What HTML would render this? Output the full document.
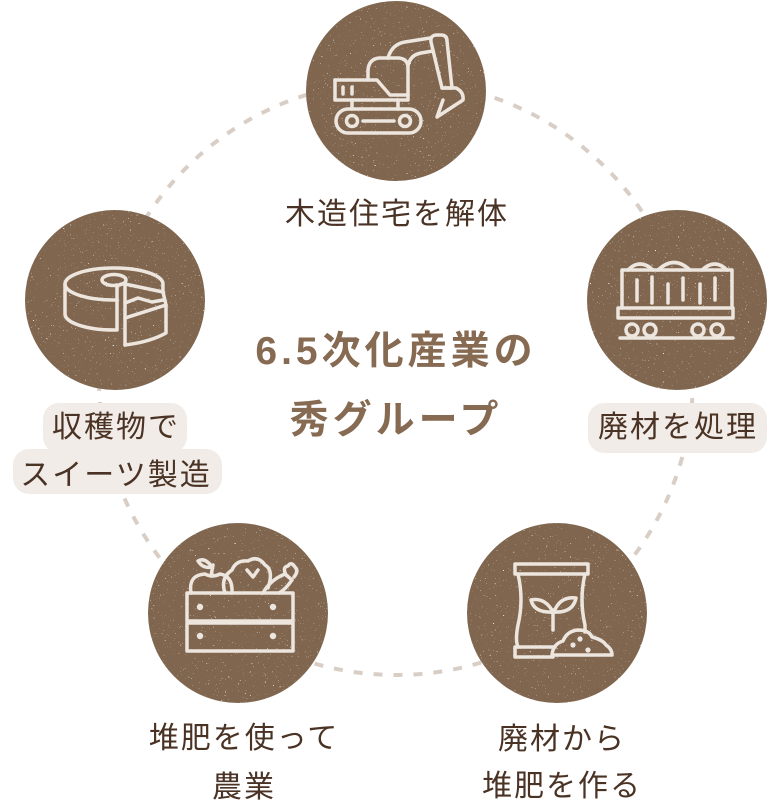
<!DOCTYPE html>
<html><head><meta charset="utf-8">
<style>
html,body{margin:0;padding:0;background:#fff;}
body{width:776px;height:809px;position:relative;overflow:hidden;font-family:"Liberation Sans","Noto Sans CJK JP",sans-serif;}
svg.bg{position:absolute;left:0;top:0;}
.lbl{position:absolute;text-align:center;color:#4a3324;font-size:30px;line-height:48px;letter-spacing:2px;white-space:nowrap;}
.title{position:absolute;text-align:center;color:#866a51;font-size:39px;font-weight:700;line-height:69px;letter-spacing:4px;white-space:nowrap;}
</style></head><body>
<svg class="bg" width="776" height="809" viewBox="0 0 776 809" xmlns="http://www.w3.org/2000/svg">
<defs>
<filter id="grunge" x="-5%" y="-5%" width="110%" height="110%">
<feTurbulence type="fractalNoise" baseFrequency="0.6" numOctaves="2" seed="7" result="noise"/>
<feColorMatrix in="noise" type="matrix" values="0 0 0 0 0.94  0 0 0 0 0.91  0 0 0 0 0.88  -12 0 0 0 3.1" result="spk"/>
<feComposite in="spk" in2="SourceGraphic" operator="in" result="spk2"/>
<feMerge><feMergeNode in="SourceGraphic"/><feMergeNode in="spk2"/></feMerge>
</filter>
</defs>
<!-- dashed ring -->
<circle cx="396" cy="378" r="297" fill="none" stroke="#d8cec5" stroke-width="4" stroke-dasharray="9 11"/>
<!-- brown circles -->
<g fill="#806650" filter="url(#grunge)">
<circle cx="396" cy="91" r="90"/>
<circle cx="677" cy="300" r="90"/>
<circle cx="115" cy="300" r="90"/>
<circle cx="238" cy="613" r="90"/>
<circle cx="557" cy="613" r="90"/>
</g>
<!-- label backgrounds -->
<g fill="#f1ece7">
<rect x="588" y="403" width="179" height="50" rx="16"/>
<rect x="43" y="403" width="144" height="50" rx="16"/>
<rect x="13" y="449" width="209" height="45" rx="16"/>
</g>
<g fill="none" stroke="#ede6df" stroke-width="3.5" stroke-linecap="round" stroke-linejoin="round">
<!-- excavator -->
<rect x="336" y="109" width="85" height="24" rx="12"/>
<circle cx="352" cy="121" r="5.5"/>
<circle cx="405" cy="121" r="5.5"/>
<line x1="363" y1="121" x2="394" y2="121"/>
<line x1="352" y1="100" x2="352" y2="109"/>
<line x1="398" y1="100" x2="398" y2="109"/>
<path d="M335 80 H377 L390 95 H408"/>
<path d="M335 80 V100 H408 V68 Q408 59 399 58 H379 Q369 59 368 70 V80"/>
<line x1="343" y1="87" x2="343" y2="94"/>
<line x1="352" y1="87" x2="352" y2="94"/>
<path d="M388 58 Q392 44 405 42 L430 38"/>
<path d="M408 66 Q410 55 421 53 L433 51"/>
<path d="M431 42 Q430 35 437 35 H441 Q447 35 447 41 L452 88 H442 Z"/>
<path d="M442 88 H456 Q464 92 463 100 L437 117 L443 100"/>
<!-- train -->
<path d="M628 270 Q640 258 653 270"/>
<path d="M658 270 Q674 255 690 270"/>
<path d="M702 270 Q715 258 727 270"/>
<path d="M622 308 V270 H732 V308"/>
<line x1="637" y1="280" x2="637" y2="301"/>
<line x1="652" y1="277" x2="652" y2="303"/>
<line x1="668" y1="284" x2="668" y2="303"/>
<line x1="683" y1="278" x2="683" y2="300"/>
<line x1="700" y1="284" x2="700" y2="303"/>
<line x1="715" y1="278" x2="715" y2="300"/>
<rect x="618" y="308" width="115" height="10"/>
<circle cx="632" cy="330" r="6"/>
<circle cx="650" cy="330" r="6"/>
<circle cx="698" cy="330" r="6"/>
<circle cx="717" cy="330" r="6"/>
<line x1="620" y1="338" x2="733" y2="338"/>
<!-- cake -->
<path d="M117 300 A49 16 0 0 1 65 284 A49 16 0 0 1 162.9 283 L163 292"/>
<ellipse cx="114" cy="280" rx="12" ry="5.5"/>
<path d="M65 284 V314 A49 16 0 0 0 114 330 H117 V285"/>
<line x1="125" y1="284" x2="125" y2="345"/>
<path d="M125 284 L163 292 L166 305 V333 Q150 342 125 345"/>
<path d="M125 318 L166 305"/>
<path d="M125 303 L138 298 L152 302 L163 300"/>
<!-- bag -->
<rect x="515" y="564" width="73" height="10"/>
<path d="M518 574 Q524 600 518 625 Q515 640 518 647"/>
<path d="M585 574 Q579 600 585 625 V632"/>
<path d="M555 647 H515 V657 H553"/>
<line x1="553" y1="610" x2="553" y2="630"/>
<path d="M553 612 Q545 597 531 600 Q534 613 553 612 Z"/>
<path d="M554 612 Q560 596 576 598 Q573 613 554 612 Z"/>
<path d="M552 655 Q553 644 563 641 Q567 631 578 630 Q589 630 592 637 Q603 640 606 645 Q612 649 612 655 Z"/>
<!-- crate -->
<rect x="187" y="593" width="106" height="28"/>
<rect x="187" y="623" width="106" height="28"/>
<path d="M191 593 Q188 575 205 574 Q212 578 220 574 Q233 576 232 593"/>
<path d="M211 576 L213 565"/>
<path d="M212 567 Q205 557 198 561 Q203 569 212 567 Z"/>
<path d="M225 593 Q220 578 232 570 Q236 560 248 561 Q258 555 265 565 Q274 570 268 588"/>
<path d="M247 570 L253 577 L258 570"/>
<path d="M263 593 Q270 580 285 574 L292 580 Q285 590 279 593"/>
<path d="M286 575 Q282 567 288 566 Q291 561 295 567 Q299 571 294 577"/>
</g>
<g fill="#ede6df">
<circle cx="573" cy="645" r="2.6"/>
<circle cx="580" cy="639" r="2.6"/>
<circle cx="588" cy="650" r="2.6"/>
<circle cx="200" cy="607" r="3.2"/>
<circle cx="273" cy="607" r="3.2"/>
<circle cx="200" cy="636" r="3.2"/>
<circle cx="273" cy="636" r="3.2"/>
</g>
</svg>

<div class="lbl" style="left:197px;top:191px;width:400px;">木造住宅を解体</div>
<div class="lbl" style="left:528px;top:404px;width:300px;">廃材を処理</div>
<div class="lbl" style="left:-34px;top:404px;width:300px;">収穫物で<br>スイーツ製造</div>
<div class="lbl" style="left:94px;top:714px;width:300px;line-height:49px;">堆肥を使って<br>農業</div>
<div class="lbl" style="left:412px;top:716px;width:300px;line-height:47px;">廃材から<br>堆肥を作る</div>

<div class="title" style="left:196px;top:317px;width:400px;">6.5次化産業の<br>秀グループ</div>
</body></html>
